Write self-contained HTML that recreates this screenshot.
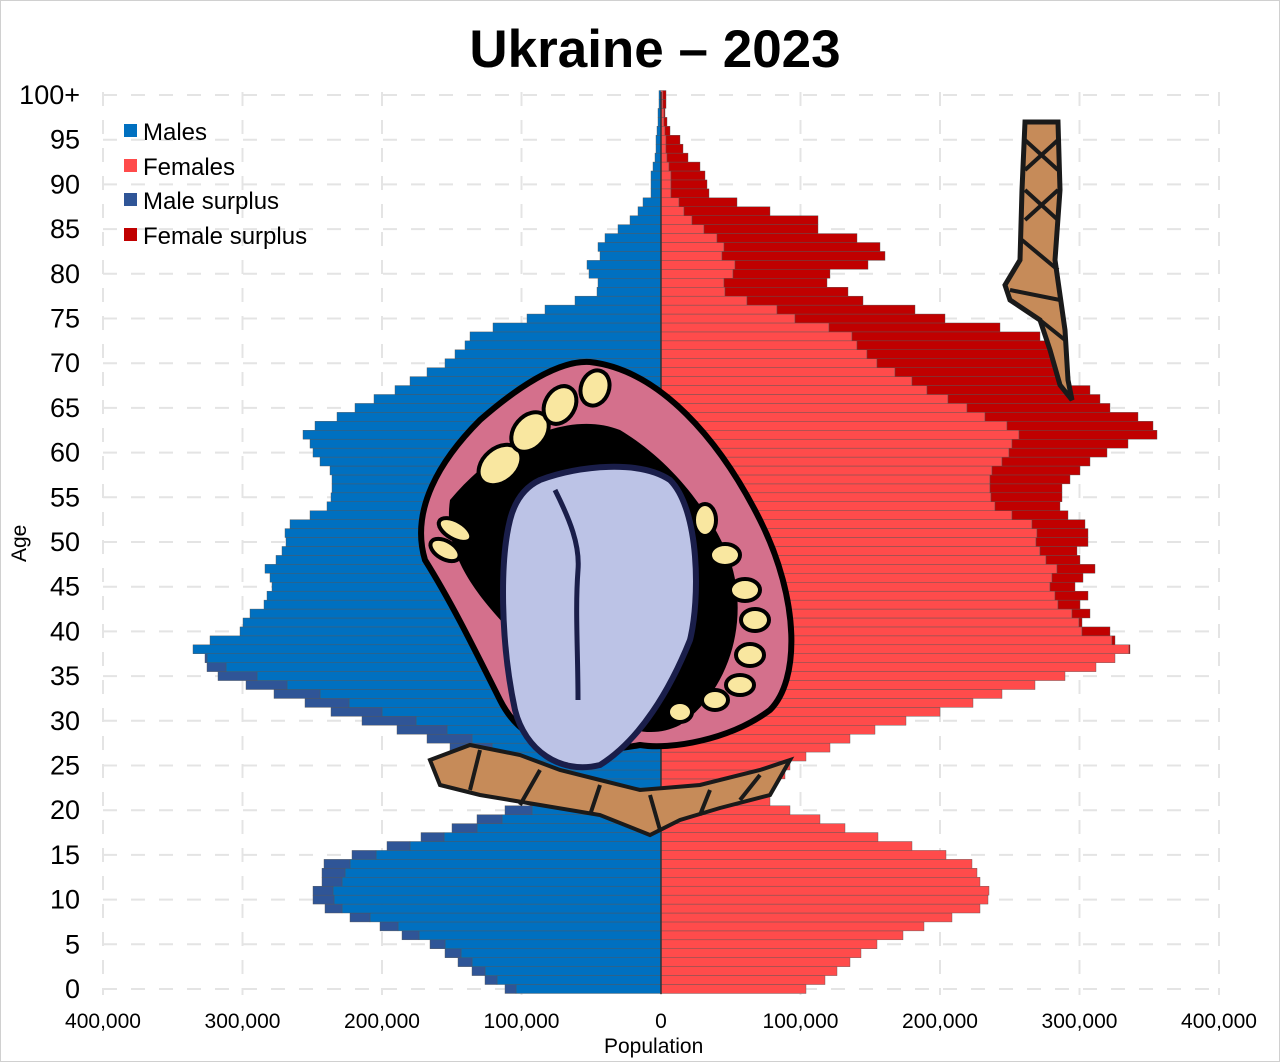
<!DOCTYPE html>
<html><head><meta charset="utf-8">
<style>
html,body{margin:0;padding:0;background:#fff;}
svg{display:block;font-family:"Liberation Sans",sans-serif;}
</style></head>
<body>
<svg id="s" width="1280" height="1062" viewBox="0 0 1280 1062" xmlns="http://www.w3.org/2000/svg">
<rect x="0.5" y="0.5" width="1279" height="1061" fill="#fff" stroke="#d0d0d0"/>
<text x="655" y="67" font-size="53" font-weight="bold" text-anchor="middle">Ukraine – 2023</text>
<g id="grid"></g>
<g id="bars"></g>
<g id="labels" font-size="27" fill="#000"></g>
<g font-size="21">
<text x="604" y="1053">Population</text>
<text transform="translate(26,562) rotate(-90)" font-size="21">Age</text>
</g>
<g font-size="24">
<rect x="124" y="124" width="13" height="13" fill="#0070c0"/><text x="143" y="140">Males</text>
<rect x="124" y="159" width="13" height="13" fill="#ff4b4b"/><text x="143" y="175">Females</text>
<rect x="124" y="193" width="13" height="13" fill="#2f5597"/><text x="143" y="209">Male surplus</text>
<rect x="124" y="228" width="13" height="13" fill="#c00000"/><text x="143" y="244">Female surplus</text>
</g>
<!-- rope top right -->
<g>
<path d="M1025,122 L1058,122 L1060,190 L1055,260 L1065,330 L1068,380 L1072,400 L1060,385 L1050,350 L1040,320 L1010,300 L1005,285 L1020,260 L1022,190 Z" fill="#c68b59" stroke="#1a1a1a" stroke-width="5"/>
<path d="M1025,140 L1058,170 M1058,140 L1025,170 M1025,190 L1058,220 M1058,190 L1025,220 M1022,240 L1058,270 M1010,290 L1060,300 M1040,320 L1065,340" stroke="#1a1a1a" stroke-width="4"/>
</g>
<!-- rope bottom -->
<g>
<path d="M430,760 L470,745 L520,755 L560,770 L600,780 L640,790 L700,785 L760,770 L790,760 L770,795 L720,808 L680,820 L650,835 L600,815 L540,805 L480,795 L440,785 Z" fill="#c68b59" stroke="#1a1a1a" stroke-width="4"/>
<path d="M480,750 L470,790 M540,770 L520,805 M600,785 L590,815 M650,795 L660,830 M710,790 L700,815 M760,775 L740,800" stroke="#1a1a1a" stroke-width="4"/>
</g>
<!-- mouth -->
<g>
<path d="M590,362 C660,370 720,440 760,520 C800,600 800,680 770,710 C730,740 670,750 640,745 C560,760 520,740 500,700 C470,640 450,600 425,560 C410,510 440,460 480,420 C520,385 560,360 590,362 Z" fill="#d4708c" stroke="#000" stroke-width="6"/>
<path d="M450,500 C500,440 570,410 620,430 C670,460 710,510 730,560 C750,620 730,690 680,725 C640,745 600,720 560,680 C500,620 440,570 450,500 Z" fill="#000"/>
<g fill="#f9e7a0" stroke="#000" stroke-width="4">
<ellipse cx="500" cy="465" rx="24" ry="17" transform="rotate(-40 500 465)"/>
<ellipse cx="530" cy="432" rx="22" ry="16" transform="rotate(-50 530 432)"/>
<ellipse cx="560" cy="405" rx="20" ry="15" transform="rotate(-60 560 405)"/>
<ellipse cx="595" cy="388" rx="18" ry="14" transform="rotate(-70 595 388)"/>
<ellipse cx="455" cy="530" rx="18" ry="9" transform="rotate(30 455 530)"/>
<ellipse cx="445" cy="550" rx="16" ry="9" transform="rotate(30 445 550)"/>
<ellipse cx="705" cy="520" rx="11" ry="16"/>
<ellipse cx="725" cy="555" rx="15" ry="11"/>
<ellipse cx="745" cy="590" rx="15" ry="11"/>
<ellipse cx="755" cy="620" rx="14" ry="11"/>
<ellipse cx="750" cy="655" rx="14" ry="11"/>
<ellipse cx="740" cy="685" rx="14" ry="10"/>
<ellipse cx="715" cy="700" rx="13" ry="10"/>
<ellipse cx="680" cy="712" rx="12" ry="10"/>
</g>
<path d="M540,480 C580,465 640,460 670,480 C700,510 700,600 690,640 C670,690 640,740 600,765 C560,775 525,750 515,710 C500,640 500,560 510,520 C515,500 525,487 540,480 Z" fill="#bcc3e6" stroke="#1a1e4a" stroke-width="6"/>
<path d="M555,490 C570,520 580,545 578,570 C575,610 578,650 578,700" fill="none" stroke="#1a1e4a" stroke-width="5"/>
</g>
</svg>
<script>
var M=[505,485,472,458,445,430,402,380,350,325,313,313,322,322,324,352,387,421,452,477,505,530,540,535,530,510,470,450,427,397,362,331,305,274,246,218,207,205,193,210,240,243,250,264,267,272,270,265,276,282,286,285,290,310,327,331,332,332,330,320,313,310,303,315,337,355,374,395,410,427,445,455,465,470,493,527,545,575,597,598,589,587,600,598,605,618,630,638,643,651,651,651,653,655,656,656,657,658,658,659,659];
var F=[806,825,837,850,861,877,903,924,952,980,988,989,980,977,972,946,912,878,845,820,790,770,770,775,785,790,806,830,850,875,906,940,973,1002,1035,1065,1096,1115,1130,1115,1110,1082,1090,1080,1088,1075,1083,1095,1080,1077,1088,1088,1085,1068,1060,1062,1062,1070,1080,1090,1107,1128,1157,1153,1138,1110,1100,1090,1070,1065,1060,1055,1050,1040,1000,945,915,863,848,827,830,868,885,880,857,818,818,770,737,709,707,705,700,688,683,680,670,667,665,666,666];
var C=661,ns="http://www.w3.org/2000/svg";
function el(p,t,a){var e=document.createElementNS(ns,t);for(var k in a)e.setAttribute(k,a[k]);p.appendChild(e);return e;}
var g=document.getElementById("grid"),b=document.getElementById("bars"),L=document.getElementById("labels");
for(var i=0;i<=8;i++){var x=103+i*139.5;el(g,"line",{x1:x,y1:92,x2:x,y2:995,stroke:"#e4e4e4","stroke-width":2,"stroke-dasharray":"14,14"});}
for(var a=0;a<=100;a+=5){var y=989-a*8.94;el(g,"line",{x1:103,y1:y,x2:1219,y2:y,stroke:"#e4e4e4","stroke-width":2,"stroke-dasharray":"14,14"});
 var t=el(L,"text",{x:80,y:y+9,"text-anchor":"end"});t.textContent=a==100?"100+":a;}
var h=8.94;
for(var a=0;a<=100;a++){var y=989-a*8.94-h/2;var mw=C-M[a],fw=F[a]-C,m=Math.min(mw,fw);
 el(b,"rect",{x:C-m,y:y,width:m,height:h,fill:"#0070c0",stroke:"#555","stroke-width":0.4});
 el(b,"rect",{x:C,y:y,width:m,height:h,fill:"#ff4b4b",stroke:"#555","stroke-width":0.4});
 if(mw>fw)el(b,"rect",{x:M[a],y:y,width:mw-fw,height:h,fill:"#2f5597",stroke:"#555","stroke-width":0.4});
 if(fw>mw)el(b,"rect",{x:C+mw,y:y,width:fw-mw,height:h,fill:"#c00000",stroke:"#555","stroke-width":0.4});}
el(b,"line",{x1:C,y1:92,x2:C,y2:994,stroke:"#333","stroke-width":1.5});
var xl=["400,000","300,000","200,000","100,000","0","100,000","200,000","300,000","400,000"];
for(var i=0;i<9;i++){var t=el(L,"text",{x:103+i*139.5,y:1028,"text-anchor":"middle","font-size":21});t.textContent=xl[i];}
</script>
</body></html>
